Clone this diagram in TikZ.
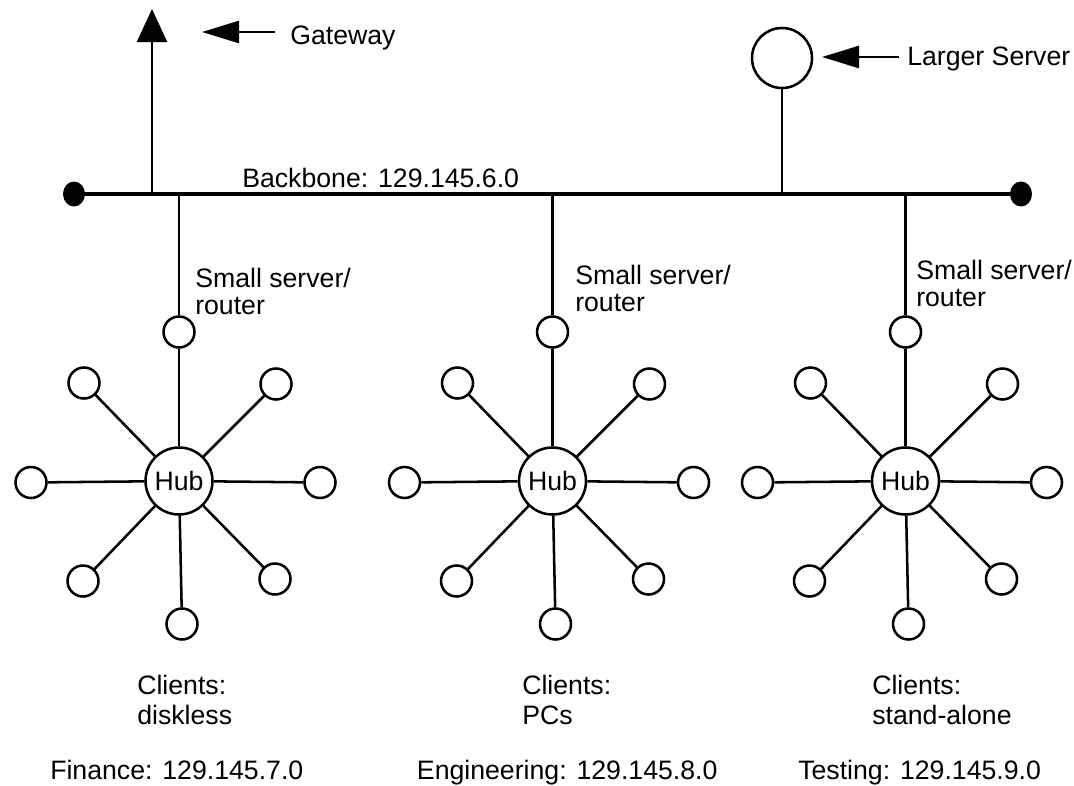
\documentclass[tikz,border=0pt]{standalone}
\usepackage{fontspec}
\setmainfont{Liberation Sans}
\usetikzlibrary{arrows.meta,shapes.geometric}
\def\pxu{0.75pt}
\begin{document}
\begin{tikzpicture}[x=0.75pt,y=-0.75pt,
  every node/.style={font=\fontsize{20}{20.25}\selectfont},
  wire/.style={line width=1.9pt},
  bbwire/.style={line width=2.3pt},
  client/.style={circle,draw,line width=1.9pt,minimum size=31*\pxu,inner sep=0pt},
  hubnode/.style={circle,draw,line width=1.9pt,minimum size=67*\pxu,inner sep=0pt},
  bigserver/.style={circle,draw,line width=1.9pt,minimum size=60*\pxu,inner sep=0pt},
  enddot/.style={ellipse,fill=black,minimum width=22*\pxu,minimum height=25*\pxu,inner sep=0pt},
  lbl/.style={anchor=base west,inner sep=0pt},
  lbltwo/.style={anchor=north west,inner sep=0pt,align=left},
  clbl/.style={anchor=north west,inner sep=0pt,align=left,font=\fontsize{20}{22.5}\selectfont},
  pointer/.style={line width=1.9pt,-{Triangle[length=37*\pxu,width=22*\pxu]}},
  uparrow/.style={line width=1.9pt,-{Triangle[length=33*\pxu,width=30*\pxu]}}
]
\useasboundingbox (0,0) rectangle (1074,785);

% backbone
\node[enddot] (bl) at (74,194) {};
\node[enddot] (br) at (1021,194) {};
\draw[bbwire] (bl.center) -- (br.center);
\node[lbl] (bbtext) at (242,187) {Backbone: 129.145.6.0};

% gateway
\coordinate (gwb) at (152,194);
\coordinate (gwt) at (152,9);
\draw[uparrow] (gwb) -- (gwt);
\node[lbl] (gwtext) at (290,44) {Gateway};
\coordinate (gwps) at (275,32);
\coordinate (gwpt) at (202,32);
\draw[pointer] (gwps) -- (gwpt);

% larger server
\node[bigserver] (ls) at (782,58) {};
\draw[wire] (ls.south) -- (ls.south |- bl.center);
\node[lbl] (lstext) at (907,65) {Larger Server};
\coordinate (lsps) at (899,57);
\coordinate (lspt) at (822,57);
\draw[pointer] (lsps) -- (lspt);

% clusters
\foreach \i/\hx/\lx/\ly/\cx/\ct in {a/179/195/287/137/diskless,b/552.5/575/284/522/PCs,c/905.5/916/279/872/stand-alone}{
  \node[hubnode] (hub\i) at (\hx,481) {Hub};
  \node[client] (srv\i) at (\hx,332) {};
  \draw[wire] (srv\i.north) -- (srv\i.north |- bl.center);
  \draw[wire] (srv\i) -- (hub\i);
  \foreach \n/\dx/\dy in {tl/-95/-98,tr/97/-97,l/-148/1.5,r/141/1.5,bl/-96/100,br/96/98,b/3/143}{
    \node[client] (cl\i\n) at (\hx+\dx,481+\dy) {};
    \draw[wire] (hub\i) -- (cl\i\n);
  }
  \node[lbltwo] (srvlbl\i) at (\lx,\ly-19.5) {Small server/\\router};
  \node[clbl] (cllbl\i) at (\cx,694-19.5) {Clients:\\\ct};
}

% subnet labels
\node[lbl] (fin) at (50,779) {Finance: 129.145.7.0};
\node[lbl] (eng) at (416.7,779) {Engineering: 129.145.8.0};
\node[lbl] (tst) at (798,779) {Testing: 129.145.9.0};
\end{tikzpicture}
\end{document}
